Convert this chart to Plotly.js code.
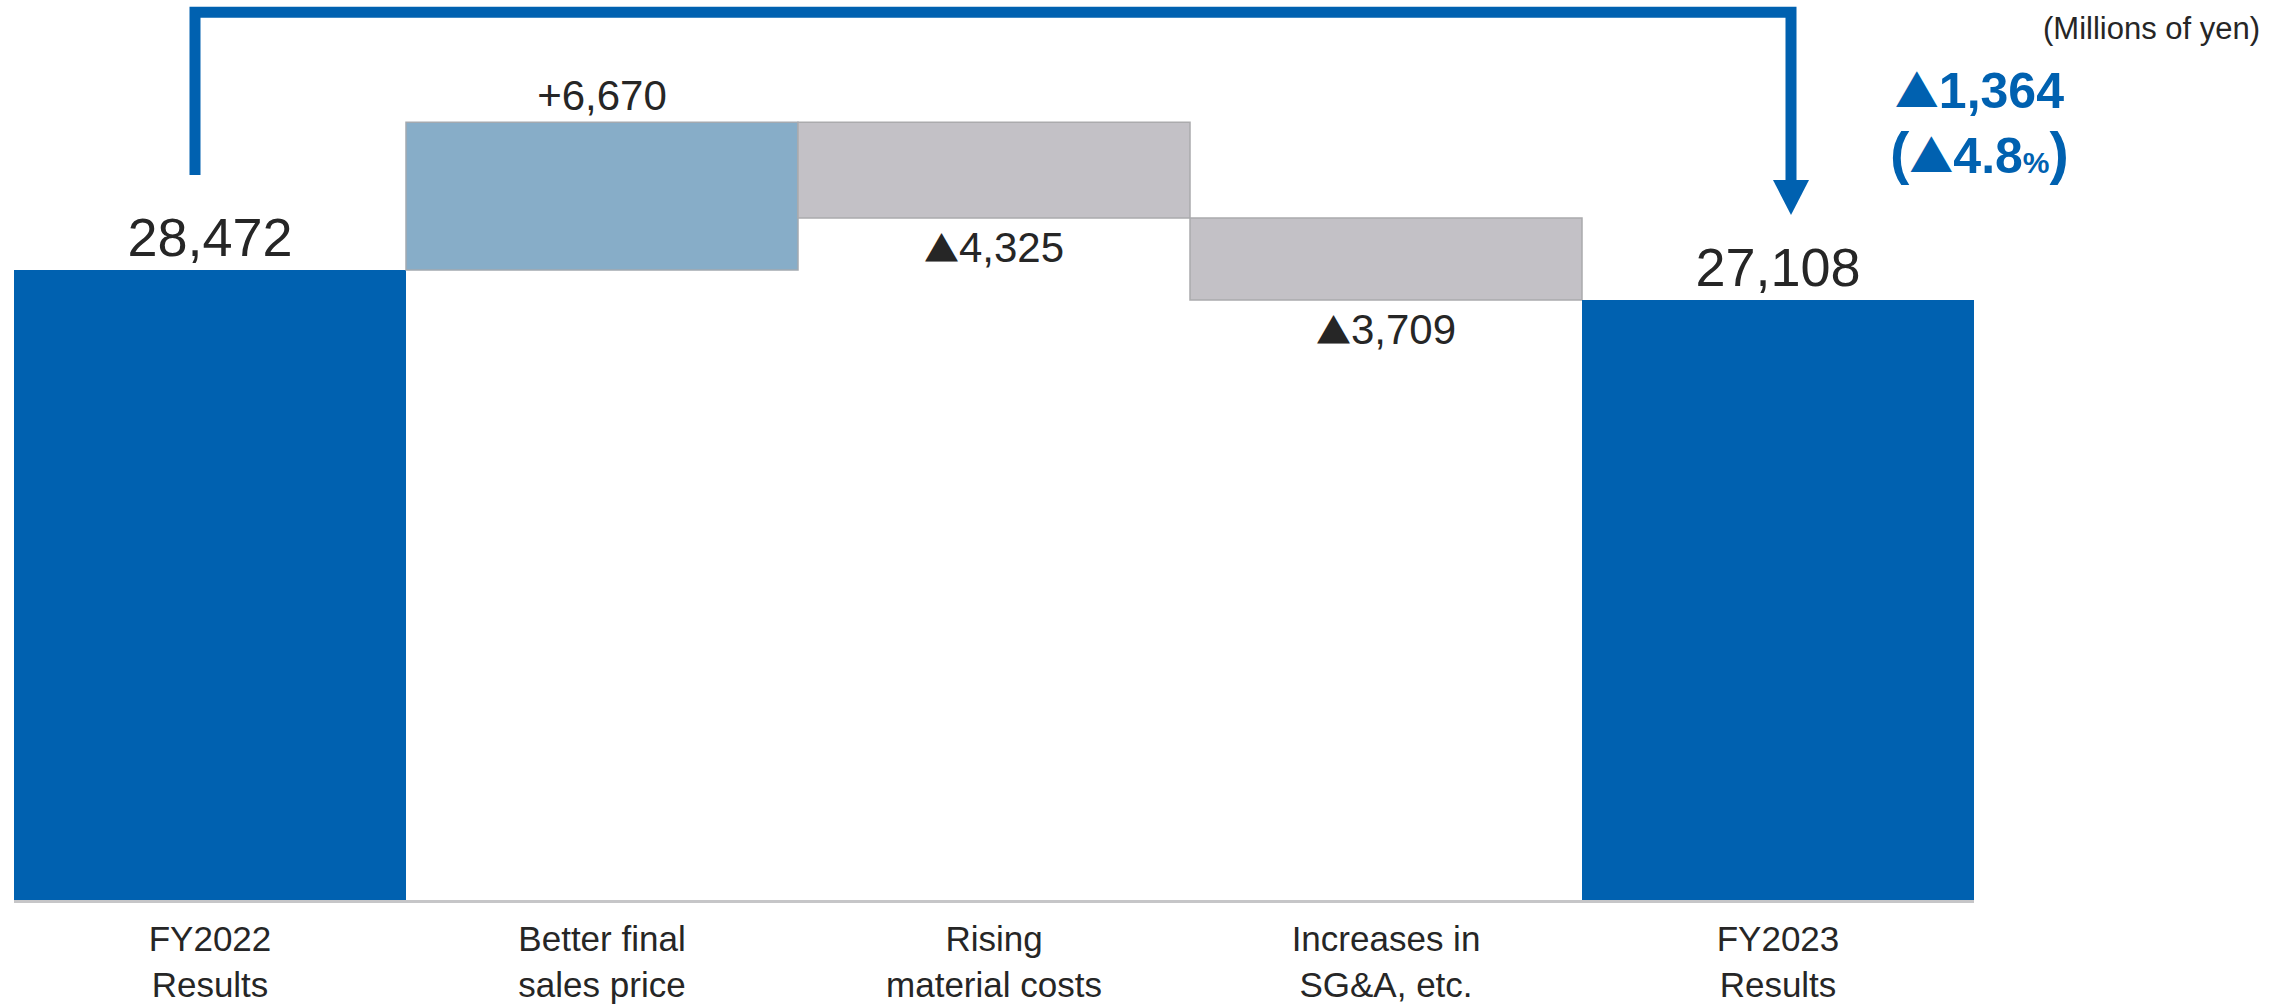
<!DOCTYPE html>
<html>
<head>
<meta charset="utf-8">
<script src="https://cdn.plot.ly/plotly-3.0.1.min.js"></script>
<style>html,body{margin:0;padding:0;background:#fff;}#chart{width:2290px;height:1004px;}</style>
</head>
<body>
<div id="chart"></div>
<script>
// ---- data ----
const categories = ["FY2022<br>Results", "Better final<br>sales price", "Rising<br>material costs", "Increases in<br>SG&A, etc.", "FY2023<br>Results"];
const measures = ["absolute", "relative", "relative", "relative", "total"];
const values = [28472, 6670, -4325, -3709, 27108];
const labelTexts = ["28,472", "+6,670", "▲4,325", "▲3,709", "27,108"];
const unitLabel = "(Millions of yen)";
const changeLabel = "▲1,364";
const changePctLabel = "(▲4.8%)";

// ---- text styling helpers ----
const styleTri = (s, size) => s.replace(/▲/g, `<span style='font-family:Noto Sans CJK JP;font-size:${size}px'>▲</span>`);
const stylePct = (s, size) => styleTri(s, size).replace("%", "<span style='font-size:30px'>%</span>")
  .replace("(", "<span style='font-size:58px'>(</span>").replace(")", "<span style='font-size:58px'>)</span>");

// ---- layout geometry helpers (pixels -> paper) ----
const W = 2290, H = 1004;
const mL = 14, mR = 316, mT = 100, mB = 104;
const plotW = W - mL - mR, plotH = H - mT - mB;
const px = x => (x - mL) / plotW;
const py = y => (H - mB - y) / plotH;

const textDark = "#262626";
const blue = "#0061B0";

const trace = {
  type: "waterfall",
  x: categories,
  y: values,
  measure: measures,
  text: labelTexts.map(t => styleTri(t, 35)),
  textposition: "outside",
  textfont: { size: [54, 42, 42, 42, 54], color: textDark, family: "Liberation Sans, Arial, sans-serif" },
  cliponaxis: false,
  connector: { visible: false },
  increasing: { marker: { color: "#87ADC8", line: { color: "#A3A9B0", width: 1.5 } } },
  decreasing: { marker: { color: "#C3C1C6", line: { color: "#ABABAD", width: 1.5 } } },
  totals: { marker: { color: blue, line: { color: blue, width: 0 } } },
  hoverinfo: "none"
};

const layout = {
  width: W, height: H,
  margin: { l: mL, r: mR, t: mT, b: mB, pad: 0 },
  paper_bgcolor: "#ffffff",
  plot_bgcolor: "#ffffff",
  showlegend: false,
  waterfallgap: 0,
  font: { family: "Liberation Sans, Arial, sans-serif", color: textDark },
  xaxis: {
    type: "category",
    range: [-0.5, 4.5],
    showline: true, linecolor: "#C6C6C8", linewidth: 3,
    ticks: "", showgrid: false, zeroline: false,
    tickfont: { size: 35, color: textDark },
    ticklabelstandoff: 6,
    fixedrange: true
  },
  yaxis: {
    range: [0, 36150],
    visible: false, showgrid: false, zeroline: false, fixedrange: true
  },
  shapes: [
    {
      type: "path", xref: "paper", yref: "paper",
      path: `M ${px(195)},${py(175)} L ${px(195)},${py(12.2)} L ${px(1791)},${py(12.2)} L ${px(1791)},${py(185)}`,
      line: { color: blue, width: 11 }
    },
    {
      type: "path", xref: "paper", yref: "paper",
      path: `M ${px(1773)},${py(180)} L ${px(1809)},${py(180)} L ${px(1791)},${py(215)} Z`,
      fillcolor: blue, line: { color: blue, width: 0 }
    }
  ],
  annotations: [
    { text: unitLabel, xref: "paper", yref: "paper", x: px(2262), y: py(29), xanchor: "right", yanchor: "middle",
      showarrow: false, font: { size: 31, color: textDark } },
    { text: "<b>" + styleTri(changeLabel, 44) + "<br>" + stylePct(changePctLabel, 44) + "</b>",
      xref: "paper", yref: "paper", x: px(1980), y: py(122), xanchor: "center", yanchor: "middle", align: "center",
      showarrow: false, font: { size: 50, color: blue } }
  ]
};

Plotly.newPlot("chart", [trace], layout, { displayModeBar: false, staticPlot: true });
</script>
</body>
</html>
